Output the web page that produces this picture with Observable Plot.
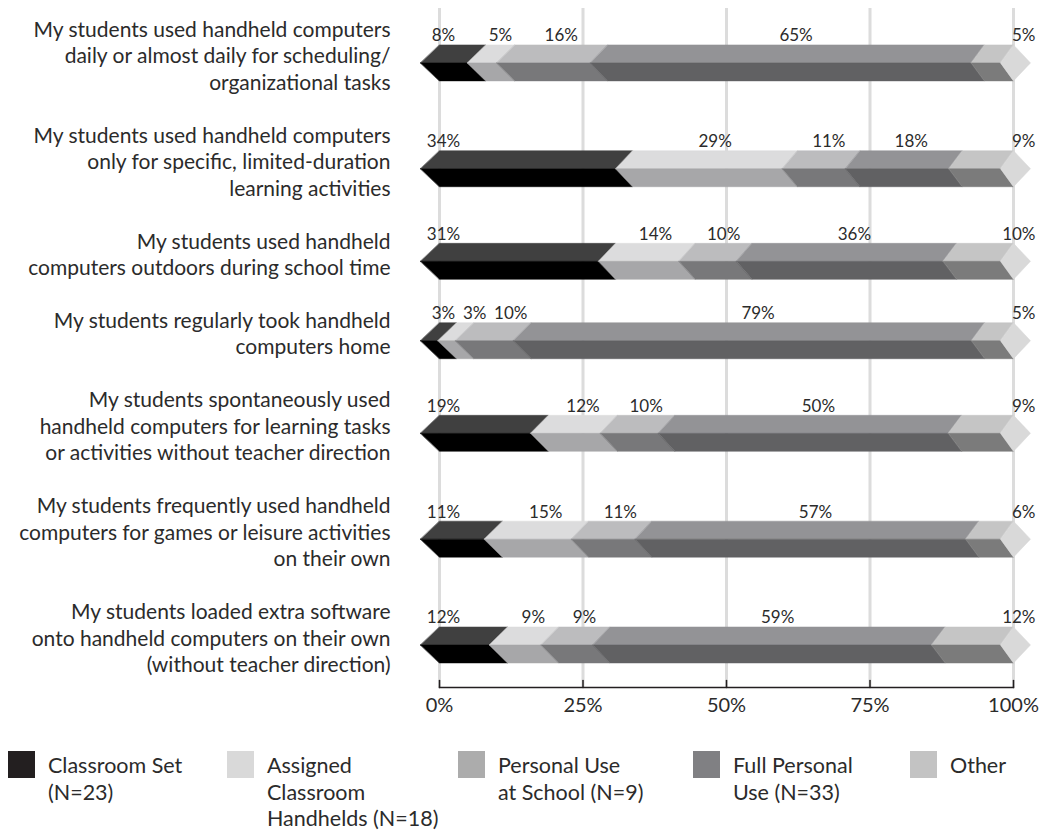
<!DOCTYPE html>
<html>
<head>
<meta charset="utf-8">
<script src="https://cdn.jsdelivr.net/npm/d3@7"></script>
<script src="https://cdn.jsdelivr.net/npm/@observablehq/plot@0.6"></script>
<style>
  body { margin: 0; background: #fff; font-family: Lato, sans-serif; font-weight: 400; color: #2b2b2b; }
  #chart { width: 1041px; }
  #legend { display: grid; grid-template-columns: 219px 231px 235px 217px auto; padding-left: 8px; margin-top: 21px; }
  .item { display: flex; align-items: flex-start; }
  .sw { width: 27px; height: 27px; flex: none; margin-right: 13px; }
  .lab { font-size: 21.5px; line-height: 26.5px; white-space: pre-line; margin-top: 1px; }
</style>
</head>
<body>
<div id="chart"></div>
<div id="legend"></div>
<script>
// ---------- data ----------
const questions = [
  "My students used handheld computers\ndaily or almost daily for scheduling/\norganizational tasks",
  "My students used handheld computers\nonly for specific, limited-duration\nlearning activities",
  "My students used handheld\ncomputers outdoors during school time",
  "My students regularly took handheld\ncomputers home",
  "My students spontaneously used\nhandheld computers for learning tasks\nor activities without teacher direction",
  "My students frequently used handheld\ncomputers for games or leisure activities\non their own",
  "My students loaded extra software\nonto handheld computers on their own\n(without teacher direction)"
];
const seriesLabels = [
  "Classroom Set\n(N=23)",
  "Assigned\nClassroom\nHandhelds (N=18)",
  "Personal Use\nat School (N=9)",
  "Full Personal\nUse (N=33)",
  "Other"
];
const classroomSet   = [8, 34, 31, 3, 19, 11, 12];
const assigned       = [5, 29, 14, 3, 12, 15, 9];
const personalSchool = [16, 11, 10, 10, 10, 11, 9];
const fullPersonal   = [65, 18, 36, 79, 50, 57, 59];
const other          = [5, 9, 10, 5, 9, 6, 12];
const xTicks = [0, 25, 50, 75, 100];

// ---------- styles ----------
const topColors    = ["#404040", "#dcdcdd", "#bcbcbe", "#939396", "#c5c5c5"];
const bottomColors = ["#000000", "#a7a7a9", "#78787a", "#616163", "#7b7b7b"];
const legendColors = ["#231f20", "#d9d9d9", "#acacac", "#808083", "#c3c3c3"];
const capColor = "#d9d9d9";
const FONT = "Lato, sans-serif";
const TEXT = "#2b2b2b";

const seriesValues = [classroomSet, assigned, personalSchool, fullPersonal, other];
const LINE = 26.458;          // px per text line (y unit)
const HALF = 18 / LINE;       // bar half height in y units
const PX = 5.74;              // px per percent
const slant = x => (19 - 6 * x / 100) / PX;   // chevron depth in x units
const capTip = 17 / PX;
const CHARW = 9.6;            // approx px width of a label character
const halfW = s => s.length * CHARW / 2 / PX;

// label blocks stacked by line count
let cursor = 0;
const rows = questions.map((q, i) => {
  const n = q.split("\n").length;
  const center = cursor + (n - 1) / 2;
  cursor += n + 1;
  return { q, i, center, bar: center + 0.3 };
});

const polys = [];
const labFirst = [], labMid = [], labLast = [];
rows.forEach((r, i) => {
  const vals = seriesValues.map(s => s[i]);
  const total = d3.sum(vals);
  const top = r.bar - HALF, mid = r.bar, bot = r.bar + HALF;
  let acc = 0;
  let prevX = 4 / PX, prevHalf = 0;
  vals.forEach((v, k) => {
    const a = acc / total * 100, b = (acc + v) / total * 100;
    acc += v;
    const t = `${i}-${k}-t`, u = `${i}-${k}-b`;
    [[a, top], [b, top], [b - slant(b), mid], [a - slant(a), mid]]
      .forEach(([x, y]) => polys.push({ id: t, x, y, color: topColors[k] }));
    [[a - slant(a), mid], [b - slant(b), mid], [b, bot], [a, bot]]
      .forEach(([x, y]) => polys.push({ id: u, x, y, color: bottomColors[k] }));
    const text = v + "%";
    if (k === 0) {
      labFirst.push({ x: 0, y: r.bar, text });
      prevX = 4 / PX; prevHalf = halfW(text);
    } else if (k === vals.length - 1) {
      labLast.push({ x: 100, y: r.bar, text });
    } else {
      // centre over the segment, nudged right if it would collide with the previous label
      const x = Math.max((a + b) / 2, prevX + prevHalf + halfW(text) + 12 / PX);
      labMid.push({ x, y: r.bar, text });
      prevX = x; prevHalf = halfW(text);
    }
  });
  const c = `${i}-cap`;
  [[100, top], [100 + capTip, mid], [100, bot], [100 - slant(100), mid]]
    .forEach(([x, y]) => polys.push({ id: c, x, y, color: capColor }));
});

const tickShape = { draw(context, l) { context.moveTo(0, 0); context.lineTo(0, -l); } };

const chart = Plot.plot({
  width: 1041,
  height: 730,
  marginLeft: 439,
  marginRight: 28,
  marginTop: 8,
  marginBottom: 43,
  x: { domain: [0, 100], label: null },
  y: { domain: [0, 24], range: [28, 663], axis: null },
  color: { type: "identity" },
  style: { fontFamily: FONT, fontWeight: 400, color: TEXT, background: "white", overflow: "visible" },
  marks: [
    Plot.ruleX(xTicks, { stroke: "#dcdcdc", strokeWidth: 3 }),
    Plot.line(polys, { x: "x", y: "y", z: "id", fill: "color", stroke: "color", strokeWidth: 0.5, curve: "linear-closed" }),
    Plot.text(rows, { frameAnchor: "left", y: "center", text: "q", textAnchor: "end", dx: -49, lineAnchor: "middle", fontSize: 21, lineHeight: LINE / 21, fill: TEXT }),
    Plot.text(labFirst, { x: "x", y: "y", text: "text", dx: 4, dy: -27, fontSize: 17, fill: TEXT }),
    Plot.text(labMid, { x: "x", y: "y", text: "text", dy: -27, fontSize: 17, fill: TEXT }),
    Plot.text(labLast, { x: "x", y: "y", text: "text", textAnchor: "end", dx: 22, dy: -27, fontSize: 17, fill: TEXT }),
    Plot.frame({ anchor: "bottom", stroke: "#231f20", strokeWidth: 1.5 }),
    Plot.vector(xTicks, { x: d => d, frameAnchor: "bottom", length: 7, rotate: 0, anchor: "start", shape: tickShape, stroke: "#231f20", strokeWidth: 1.5 }),
    Plot.axisX(xTicks, { tickSize: 0, tickPadding: 10, tickFormat: d => d + "%", fontSize: 20, fill: TEXT, label: null })
  ]
});
document.getElementById("chart").appendChild(chart);

const legend = document.getElementById("legend");
seriesLabels.forEach((s, k) => {
  const item = document.createElement("div");
  item.className = "item";
  const sw = document.createElement("div");
  sw.className = "sw";
  sw.style.background = legendColors[k];
  const lab = document.createElement("div");
  lab.className = "lab";
  lab.textContent = s;
  item.appendChild(sw);
  item.appendChild(lab);
  legend.appendChild(item);
});
</script>
</body>
</html>
